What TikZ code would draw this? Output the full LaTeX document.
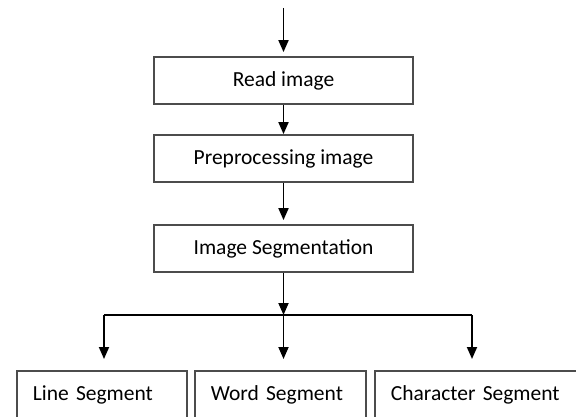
\documentclass[tikz,border=0pt]{standalone}
\usepackage{fontspec}
\setmainfont{Carlito}
\usetikzlibrary{arrows.meta}

\begin{document}
\begin{tikzpicture}[x=1pt,y=-1pt,->,>={Triangle[length=12pt,width=10pt]},
                    line width=1.8pt,node distance=78pt,
                    font=\fontsize{21.5}{26}\selectfont]
  \tikzset{box/.style={draw=black!70,minimum width=259pt,minimum height=47pt,inner sep=0pt},
           leaf/.style={draw=black!70,anchor=north west,align=left,inner xsep=16pt,minimum height=48pt}}
  \clip[use as bounding box] (0,0) rectangle (576,417);

  \coordinate (start) at (283.5,8);
  \node[box] (read)                   at (283.5,80.5) {Read image};
  \node[box] (prep)   [below of=read] {Preprocessing image};
  \node[box] (imgseg) [below of=prep,node distance=90pt] {Image Segmentation};

  \coordinate (split) at (283.5,315);
  \coordinate (railL) at (104,315);
  \coordinate (railR) at (472,315);

  \node[leaf,text width=138pt] (line) at (16,370)  {Line Segment};
  \node[leaf,text width=139pt] (word) at (194,370) {Word Segment};
  \node[leaf,text width=220pt] (char) at (374,370) {Character Segment};

  \draw[shorten >=4pt] (start) -- (read);
  \draw (read) -- (prep);
  \draw[shorten >=4pt] (prep) -- (imgseg);
  \draw (imgseg) -- (split);
  \draw[-] (railL) -- (railR);
  \draw[shorten >=11pt] (railL) -- (railL |- line.north);
  \draw[shorten >=11pt] (split) -- (split |- word.north);
  \draw[shorten >=11pt] (railR) -- (railR |- char.north);
\end{tikzpicture}
\end{document}
